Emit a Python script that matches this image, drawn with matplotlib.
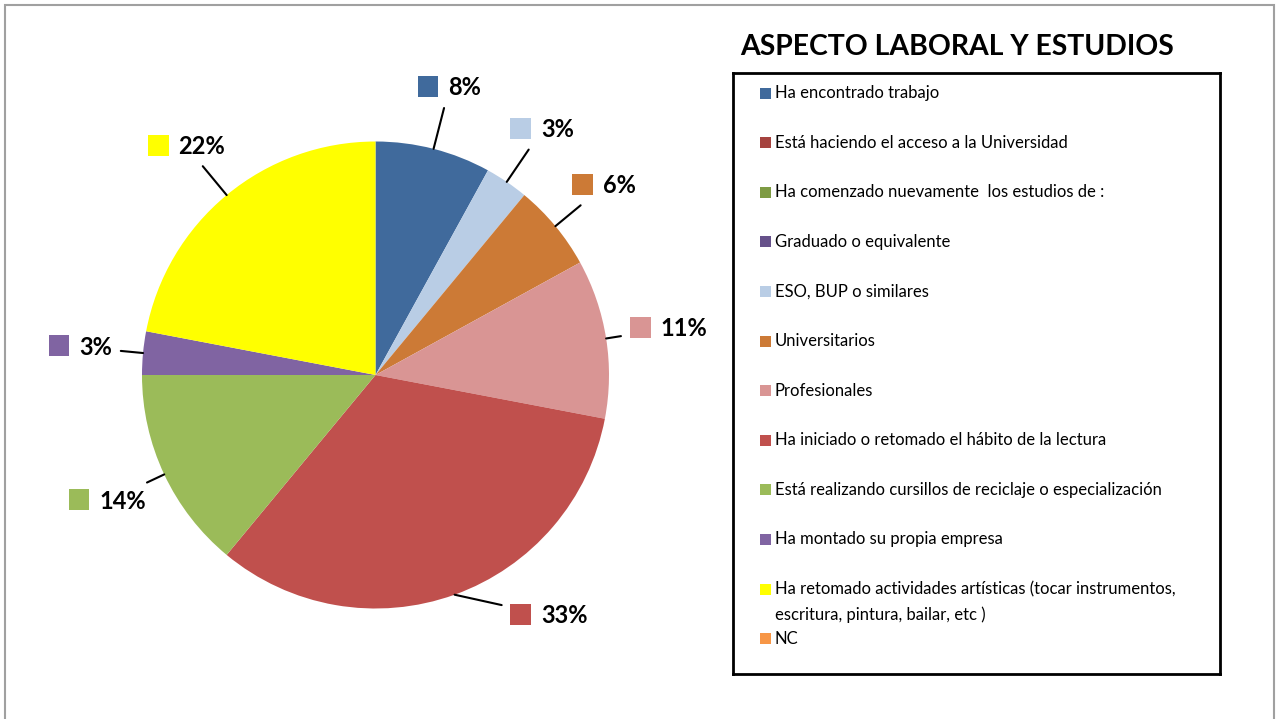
import numpy as np
import matplotlib.pyplot as plt
from matplotlib.patches import Rectangle
from matplotlib.offsetbox import AnnotationBbox, HPacker, DrawingArea, TextArea

plt.rcParams['font.family'] = ['Lato', 'DejaVu Sans']

# datos (porcentajes) en el orden del grafico / leyenda
categorias = [
    "Ha encontrado trabajo",
    "Está haciendo el acceso a la Universidad",
    "Ha comenzado nuevamente  los estudios de :",
    "Graduado o equivalente",
    "ESO, BUP o similares",
    "Universitarios",
    "Profesionales",
    "Ha iniciado o retomado el hábito de la lectura",
    "Está realizando cursillos de reciclaje o especialización",
    "Ha montado su propia empresa",
    "Ha retomado actividades artísticas (tocar instrumentos,\nescritura, pintura, bailar, etc )",
    "NC",
]
valores = [8, 0, 0, 0, 3, 6, 11, 33, 14, 3, 22, 0]
colores = ["#406A9C", "#A5433F", "#7E9B44", "#66518A", "#B9CDE5", "#CC7A36",
           "#D99594", "#C0504D", "#9BBB59", "#8064A2", "#FFFF00", "#F79646"]
titulo = "ASPECTO LABORAL Y ESTUDIOS"

# ajuste del angulo de algunas etiquetas (grados), como lo coloca Excel
giro_etiqueta = {7: 16}

W, H = 1276, 719
fig = plt.figure(figsize=(W / 100, H / 100), dpi=100)

# marco exterior gris
fig.patches.append(Rectangle((5 / W, -0.01), (1274 - 5) / W, (H - 5) / H + 0.01,
                             transform=fig.transFigure, fill=False,
                             edgecolor="#A0A0A0", linewidth=1.5))

# tarta
ax = fig.add_axes([142 / W, (H - 609) / H, 467 / W, 468 / H])
wedges, _ = ax.pie(valores, colors=colores, startangle=90, counterclock=False,
                   radius=1.0, wedgeprops=dict(linewidth=0))
ax.set_xlim(-1, 1)
ax.set_ylim(-1, 1)
ax.set_aspect('equal')
ax.axis('off')

total = sum(valores)
for i, (w, v, c) in enumerate(zip(wedges, valores, colores)):
    if v == 0:
        continue
    mid = (w.theta1 + w.theta2) / 2
    ang = np.deg2rad(mid)
    ang_txt = np.deg2rad(mid + giro_etiqueta.get(i, 0))
    da = DrawingArea(15, 15, 0, 0)
    da.add_artist(Rectangle((0, 1), 15, 15, facecolor=c, edgecolor='none'))
    ta = TextArea(f"{round(v / total * 100)}%",
                  textprops=dict(fontsize=17, fontweight='bold', color='black'))
    box = HPacker(children=[da, ta], align="center", pad=0, sep=7)
    ab = AnnotationBbox(box, (np.cos(ang), np.sin(ang)),
                        xybox=(1.27 * np.cos(ang_txt), 1.27 * np.sin(ang_txt)),
                        box_alignment=(0.5, 0.5), frameon=False,
                        annotation_clip=False,
                        arrowprops=dict(arrowstyle='-', color='black', lw=1.5,
                                        shrinkA=2, shrinkB=0))
    ax.add_artist(ab)

# titulo
fig.text(740 / W, 1 - 47 / H, titulo, fontsize=20.4, fontweight='bold',
         ha='left', va='center')

# leyenda
lg = fig.add_axes([733 / W, (H - 674) / H, 487 / W, 601 / H])
lg.set_xlim(0, 487)
lg.set_ylim(601, 0)
lg.set_xticks([])
lg.set_yticks([])
for s in lg.spines.values():
    s.set_linewidth(2)
    s.set_color('black')
for i, (cat, c) in enumerate(zip(categorias, colores)):
    y = 20 + 49.6 * i
    lg.add_patch(Rectangle((27, y - 5.5), 11, 11, facecolor=c, edgecolor='none'))
    lg.text(42, y - 8, cat, fontsize=12, ha='left', va='top', linespacing=1.65)

fig.savefig("out.png", dpi=100)
